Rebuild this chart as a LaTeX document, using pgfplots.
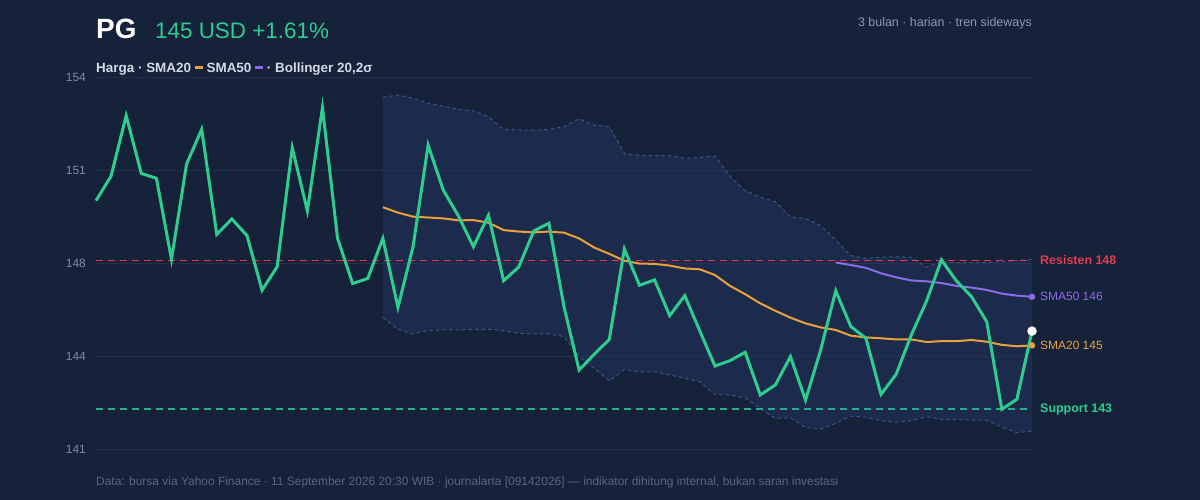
\documentclass[border=0pt]{standalone}
\usepackage{fontspec}
\setmainfont{Liberation Sans}
\usepackage{pgfplots}
\pgfplotsset{compat=1.18}
\usepackage{pgfplotstable}
\usepgfplotslibrary{fillbetween}

\definecolor{bg}{HTML}{15223A}
\definecolor{gridc}{HTML}{213049}
\definecolor{bandc}{HTML}{22345A}
\definecolor{bandline}{HTML}{3A5282}
\definecolor{pricec}{HTML}{2ECC8E}
\definecolor{sma20c}{HTML}{E9A23B}
\definecolor{sma50c}{HTML}{8B6CE8}
\definecolor{resc}{HTML}{E23B4E}
\definecolor{supc}{HTML}{2BAE8C}
\definecolor{tickc}{HTML}{7D8BA3}
\definecolor{subc}{HTML}{8C9AB2}
\definecolor{footc}{HTML}{56657F}
\definecolor{legc}{HTML}{D3DAE6}

% harga penutupan harian (indeks hari, nilai)
\pgfplotstableread{
x y
0 149.89
1 150.75
2 152.86
3 150.84
4 150.67
5 147.84
6 151.17
7 152.38
8 148.71
9 149.25
10 148.67
11 146.76
12 147.58
13 151.74
14 149.53
15 153.14
16 148.57
17 146.99
18 147.17
19 148.57
20 146.16
21 148.28
22 151.83
23 150.26
24 149.36
25 148.28
26 149.38
27 147.09
28 147.57
29 148.83
30 149.10
31 146.18
32 143.97
33 144.52
34 145.04
35 148.20
36 146.93
37 147.12
38 145.87
39 146.57
40 145.33
41 144.11
42 144.30
43 144.59
44 143.10
45 143.45
46 144.44
47 142.92
48 144.67
49 146.74
50 145.49
51 145.08
52 143.12
53 143.82
54 145.19
55 146.36
56 147.82
57 147.08
58 146.53
59 145.66
60 142.60
61 142.95
62 145.33
}\price

% SMA20 dan pita Bollinger
\pgfplotstableread{
x sma up lo
19 149.66 153.50 145.81
20 149.47 153.58 145.39
21 149.33 153.47 145.23
22 149.30 153.29 145.35
23 149.27 153.20 145.37
24 149.20 153.08 145.37
25 149.21 153.03 145.39
26 149.12 152.82 145.39
27 148.86 152.38 145.35
28 148.81 152.36 145.25
29 148.78 152.35 145.23
30 148.81 152.38 145.23
31 148.77 152.47 145.14
32 148.57 152.75 144.44
33 148.25 152.53 144.03
34 148.03 152.47 143.59
35 147.79 151.54 143.99
36 147.69 151.47 143.91
37 147.68 151.46 143.91
38 147.62 151.46 143.80
39 147.52 151.37 143.68
40 147.49 151.40 143.56
41 147.29 151.45 143.12
42 146.91 150.73 143.10
43 146.62 150.24 143.00
44 146.30 150.01 142.63
45 146.04 149.85 142.28
46 145.80 149.33 142.30
47 145.60 149.26 141.96
48 145.46 149.02 141.90
49 145.37 148.51 142.11
50 145.17 147.97 142.36
51 145.11 147.87 142.32
52 145.08 147.91 142.20
53 145.04 147.93 142.14
54 145.04 147.91 142.20
55 144.95 147.56 142.34
56 144.98 147.76 142.25
57 144.98 147.72 142.25
58 145.02 147.72 142.22
59 144.96 147.72 142.22
60 144.85 147.76 141.97
61 144.80 147.79 141.78
62 144.83 147.84 141.84
}\ind

% SMA50
\pgfplotstableread{
x y
49 147.73
50 147.64
51 147.54
52 147.35
53 147.21
54 147.10
55 147.07
56 147.01
57 146.91
58 146.85
59 146.77
60 146.64
61 146.57
62 146.53
}\smafifty

\pagecolor{bg}

\begin{document}
\begin{tikzpicture}

% judul
\node[anchor=base west, inner sep=0, text=white, font=\fontsize{28}{32}\selectfont\bfseries] at (96bp,461.7bp) {PG};
\node[anchor=base west, inner sep=0, text=pricec, font=\fontsize{22.5}{26}\selectfont] at (155bp,461.7bp) {145 USD +1.61\%};
\node[anchor=base east, inner sep=0, text=subc, font=\fontsize{12.5}{15}\selectfont] at (1032bp,473.3bp) {3 bulan · harian · tren sideways};
\node[anchor=base west, inner sep=0, text=legc, font=\fontsize{13.5}{16}\selectfont\bfseries] at (96bp,427.7bp)
  {Harga · SMA20 \textcolor{sma20c}{\rule[3.4bp]{8bp}{2.6bp}} SMA50 \textcolor{sma50c}{\rule[3.4bp]{8bp}{2.6bp}} · Bollinger 20,2σ};
\node[anchor=base west, inner sep=0, text=footc, font=\fontsize{12}{14}\selectfont] at (96bp,15bp)
  {Data: bursa via Yahoo Finance · 11 September 2026 20:30 WIB · journalarta [09142026] — indikator dihitung internal, bukan saran investasi};

\begin{axis}[
  at={(96bp,50.7bp)}, anchor=south west,
  scale only axis, width=936bp, height=372bp,
  xmin=0, xmax=62, ymin=141.2, ymax=154.2,
  clip=false,
  axis line style={draw=none},
  tick style={draw=none},
  xtick=\empty,
  ytick={141.2,144.45,147.7,150.95,154.2},
  yticklabels={141,144,148,151,154},
  ymajorgrids,
  grid style={gridc, line width=1.2bp},
  yticklabel style={font=\fontsize{12}{14}\selectfont, text=tickc, anchor=east, inner sep=0pt, xshift=-10bp},
  /pgf/number format/assume math mode=true,
]
% pita Bollinger
\addplot[draw=none, name path=up, forget plot] table[x=x, y=up] {\ind};
\addplot[draw=none, name path=lo, forget plot] table[x=x, y=lo] {\ind};
\addplot[fill=bandc, fill opacity=0.55, draw=none] fill between[of=up and lo];
\addplot[bandline, line width=1bp, dash pattern=on 3.5bp off 3bp] table[x=x, y=up] {\ind};
\addplot[bandline, line width=1bp, dash pattern=on 3.5bp off 3bp] table[x=x, y=lo] {\ind};

% resisten dan support
\addplot[resc, line width=1.5bp, dash pattern=on 7bp off 5bp] coordinates {(0,147.80) (62,147.80)};
\addplot[supc, line width=1.5bp, dash pattern=on 7bp off 5bp] coordinates {(0,142.60) (62,142.60)};

% rata-rata bergerak
\addplot[sma50c, line width=2bp] table[x=x, y=y] {\smafifty};
\addplot[sma20c, line width=2bp] table[x=x, y=sma] {\ind};

% harga
\addplot[pricec, line width=3bp] table[x=x, y=y] {\price};

% titik ujung
\addplot[only marks, mark=*, mark size=3bp, color=sma50c] coordinates {(62,146.53)};
\addplot[only marks, mark=*, mark size=3bp, color=sma20c] coordinates {(62,144.83)};
\addplot[only marks, mark=*, mark size=4.5bp, color=white] coordinates {(62,145.33)};

% label kanan
\node[anchor=west, xshift=8bp, inner sep=0, text=resc, font=\fontsize{12.5}{15}\selectfont\bfseries] at (axis cs:62,147.80) {Resisten 148};
\node[anchor=west, xshift=8bp, inner sep=0, text=sma50c, font=\fontsize{12}{14}\selectfont] at (axis cs:62,146.53) {SMA50 146};
\node[anchor=west, xshift=8bp, inner sep=0, text=sma20c, font=\fontsize{12}{14}\selectfont] at (axis cs:62,144.83) {SMA20 145};
\node[anchor=west, xshift=8bp, inner sep=0, text=pricec, font=\fontsize{12.5}{15}\selectfont\bfseries] at (axis cs:62,142.60) {Support 143};
\end{axis}
\pgfresetboundingbox
\useasboundingbox (0bp,0bp) rectangle (1200bp,500bp);
\end{tikzpicture}
\end{document}
